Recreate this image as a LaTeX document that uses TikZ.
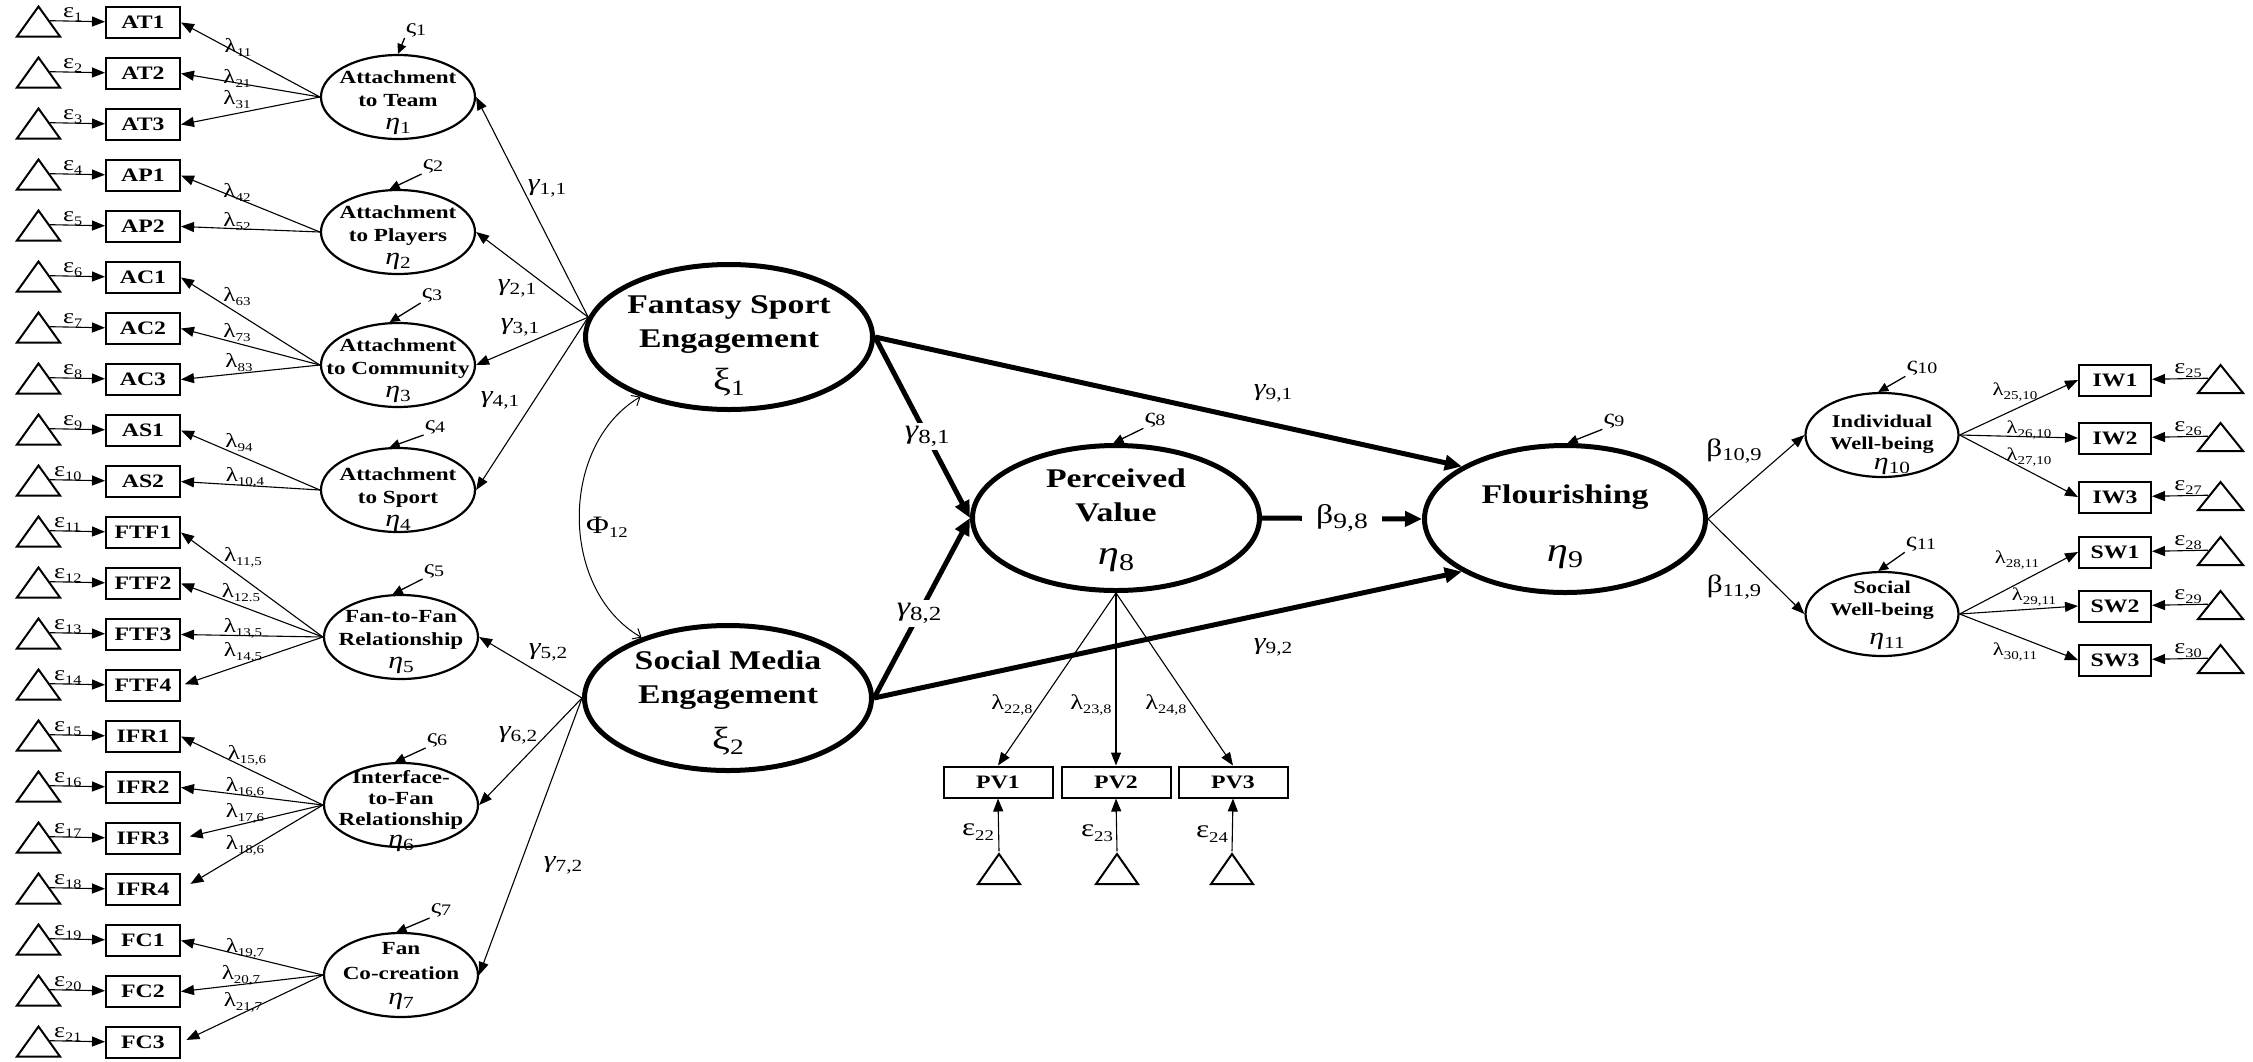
\documentclass[tikz,border=0pt]{standalone}
\usepackage{fontspec}
\setmainfont{Liberation Serif}[FakeStretch=1.25]
\usetikzlibrary{arrows.meta,shapes.geometric}

% lowered subscript of a given size
\newcommand\sbs[3][3pt]{\raisebox{-#1}{\fontsize{#2}{#2}\selectfont #3}}
\newcommand\etaS[1]{{\mdseries\fontsize{24}{24}\selectfont\itshape η\upshape\sbs[4pt]{17}{#1}}}
\newcommand\etaB[1]{{\mdseries\fontsize{34}{34}\selectfont\itshape η\upshape\sbs[6pt]{24}{#1}}}
\newcommand\xiB[1]{{\mdseries\fontsize{32}{32}\selectfont ξ\sbs[5pt]{22}{#1}}}
\newcommand\gamS[1]{{\itshape γ}\sbs[4pt]{17}{#1}}

\tikzset{
  mbox/.style={draw, line width=2pt, minimum width=74pt, minimum height=31pt, inner sep=0pt,
    font=\bfseries\fontsize{19}{19}\selectfont},
  pvbox/.style={mbox, minimum width=109pt},
  wbox/.style={mbox, minimum width=72pt},
  errtri/.style={draw, line width=2pt, isosceles triangle, isosceles triangle stretches,
    shape border rotate=90, minimum width=43pt, minimum height=30pt, inner sep=0pt},
  lat/.style={draw, ellipse, line width=2.2pt, minimum width=154pt, minimum height=84pt, inner sep=0pt},
  biglat/.style={draw, ellipse, line width=5pt, minimum width=287pt, minimum height=145pt, inner sep=0pt},
  lattxt/.style={align=center, inner sep=0pt, font=\bfseries\fontsize{18.5}{23}\selectfont},
  bigtxt/.style={align=center, inner sep=0pt, font=\bfseries\fontsize{27}{34}\selectfont},
  symb/.style={inner sep=0pt},
  ld/.style={line width=1.1pt, -{Triangle[length=13pt,width=10pt]}},
  zarr/.style={line width=1.3pt, -{Triangle[length=10pt,width=9pt]}},
  mainpath/.style={line width=5pt, -{Triangle[length=17pt,width=15pt]}},
  covpath/.style={line width=1pt, {Straight Barb[length=7pt,width=12pt]}-{Straight Barb[length=7pt,width=12pt]}},
  laml/.style={inner sep=0pt, font=\fontsize{20}{20}\selectfont},
  epsl/.style={inner sep=0pt, font=\fontsize{21}{21}\selectfont},
  zetl/.style={inner sep=1pt, font=\fontsize{21}{21}\selectfont},
  gaml/.style={inner sep=0pt, font=\fontsize{24}{24}\selectfont},
  betl/.style={inner sep=0pt, font=\fontsize{25}{25}\selectfont},
}

\begin{document}
\begin{tikzpicture}[x=1pt,y=-1pt]
\useasboundingbox (0,0) rectangle (2253,1061);

% ---------- left indicators with their error terms ----------
\foreach \nm [count=\i] in {AT1,AT2,AT3,AP1,AP2,AC1,AC2,AC3,AS1,AS2,FTF1,FTF2,FTF3,FTF4,IFR1,IFR2,IFR3,IFR4,FC1,FC2,FC3}{
  \pgfmathsetmacro\yy{22.5+51*(\i-1)}
  \pgfmathsetmacro\ex{\i<10 ? 63 : 54}
  \node[mbox] (\nm) at (143,\yy) {\nm};
  \node[errtri, anchor=lower side] (t\i) at (38.5,\yy+15) {};
  \draw[ld] (t\i.right side) -- (\nm);
  \node[epsl, anchor=south west] (e\i) at (\ex,\yy-1) {ε\sbs[4pt]{13}{\i}};
}

% ---------- first-order latent factors ----------
\node[lat] (L1) at (398,97) {};
\node[lat] (L2) at (398,232) {};
\node[lat] (L3) at (398,365) {};
\node[lat] (L4) at (398,490) {};
\node[lat] (L5) at (401,637) {};
\node[lat] (L6) at (401,805) {};
\node[lat] (L7) at (401,975) {};
\node[lattxt] (L1t) at (398,102.5) {Attachment\\to Team\\\etaS{1}};
\node[lattxt] (L2t) at (398,237.5) {Attachment\\to Players\\\etaS{2}};
\node[lattxt] (L3t) at (398,370.5) {Attachment\\to Community\\\etaS{3}};
\node[lattxt] (L4t) at (398,499.5) {Attachment\\to Sport\\\etaS{4}};
\node[lattxt] (L5t) at (401,641.5) {Fan-to-Fan\\Relationship\\\etaS{5}};
\node[lattxt, font=\bfseries\fontsize{18.5}{21}\selectfont] (L6t) at (401,811) {Interface-\\to-Fan\\Relationship\\\etaS{6}};
\node[lattxt, font=\bfseries\fontsize{18.5}{25}\selectfont] (L7t) at (401,975.5) {Fan\\Co-creation\\\etaS{7}};

% disturbances of the first-order factors
\node[zetl] (z1) at (416,30) {ς\sbs[2pt]{16}{1}};
\node[zetl] (z2) at (433,166) {ς\sbs[2pt]{16}{2}};
\node[zetl] (z3) at (432,295) {ς\sbs[2pt]{16}{3}};
\node[zetl] (z4) at (435,427) {ς\sbs[2pt]{16}{4}};
\node[zetl] (z5) at (434,571) {ς\sbs[2pt]{16}{5}};
\node[zetl] (z6) at (437,740) {ς\sbs[2pt]{16}{6}};
\node[zetl] (z7) at (441,910) {ς\sbs[2pt]{16}{7}};
\draw[zarr] (z1.south west) -- (L1.north);
\draw[zarr] (z2.south west) -- (L2.101);
\draw[zarr] (z3.south west) -- (L3.101);
\draw[zarr] (z4.south west) -- (L4.101);
\draw[zarr] (z5.south west) -- (L5.101);
\draw[zarr] (z6.south west) -- (L6.98);
\draw[zarr] (z7.south west) -- (L7.96);

% loadings of the first-order factors
\foreach \a/\b in {L1/AT1,L1/AT2,L1/AT3,L2/AP1,L2/AP2,L3/AC1,L3/AC2,L3/AC3,L4/AS1,L4/AS2,
                   L5/FTF1,L5/FTF2,L5/FTF3,L6/IFR1,L6/IFR2,L7/FC1,L7/FC2}
  \draw[ld] (\a.west) -- (\b.east);
\draw[ld, shorten >=4pt] (L5.west) -- (FTF4.east);
\draw[ld, shorten >=9pt] (L6.west) -- (IFR3.east);
\draw[ld, shorten >=11pt] (L6.west) -- (IFR4.east);
\draw[ld, shorten >=6pt] (L7.west) -- (FC3.east);

\node[laml] (l11) at (238,47) {λ\sbs[4pt]{12}{11}};
\node[laml] (l21) at (237,78) {λ\sbs[4pt]{12}{21}};
\node[laml] (l31) at (237,100) {λ\sbs[4pt]{12}{31}};
\node[laml] (l42) at (237,192) {λ\sbs[4pt]{12}{42}};
\node[laml] (l52) at (237,222) {λ\sbs[4pt]{12}{52}};
\node[laml] (l63) at (237,297) {λ\sbs[4pt]{12}{63}};
\node[laml] (l73) at (237,333) {λ\sbs[4pt]{12}{73}};
\node[laml] (l83) at (239,363) {λ\sbs[4pt]{12}{83}};
\node[laml] (l94) at (239,443) {λ\sbs[4pt]{12}{94}};
\node[laml] (l104) at (245,477) {λ\sbs[4pt]{12}{10,4}};
\node[laml] (l115) at (243,557) {λ\sbs[4pt]{12}{11,5}};
\node[laml] (l125) at (241,593) {λ\sbs[4pt]{12}{12.5}};
\node[laml] (l135) at (243,628) {λ\sbs[4pt]{12}{13,5}};
\node[laml] (l145) at (243,652) {λ\sbs[4pt]{12}{14,5}};
\node[laml] (l156) at (247,755) {λ\sbs[4pt]{12}{15,6}};
\node[laml] (l166) at (245,787) {λ\sbs[4pt]{12}{16,6}};
\node[laml] (l176) at (245,813) {λ\sbs[4pt]{12}{17,6}};
\node[laml] (l186) at (245,845) {λ\sbs[4pt]{12}{18,6}};
\node[laml] (l197) at (245,948) {λ\sbs[4pt]{12}{19,7}};
\node[laml] (l207) at (241,975) {λ\sbs[4pt]{12}{20,7}};
\node[laml] (l217) at (243,1002) {λ\sbs[4pt]{12}{21,7}};

% ---------- exogenous constructs ----------
\node[biglat] (FSE) at (729,337) {};
\node[biglat] (SME) at (728,698) {};
\node[bigtxt] (FSEt) at (729,325) {Fantasy Sport\\Engagement};
\node[symb] (FSEs) at (729,382) {\xiB{1}};
\node[bigtxt] (SMEt) at (728,680) {Social Media\\Engagement};
\node[symb] (SMEs) at (728,741) {\xiB{2}};

\draw[ld] (FSE.172) -- (L1.east);
\draw[ld] (FSE.172) -- (L2.east);
\draw[ld] (FSE.172) -- (L3.east);
\draw[ld] (FSE.172) -- (L4.east);
\draw[ld] (SME.west) -- (L5.east);
\draw[ld] (SME.west) -- (L6.east);
\draw[ld] (SME.west) -- (L7.east);
\node[gaml] (g11) at (547,188) {\gamS{1,1}};
\node[gaml] (g21) at (517,288) {\gamS{2,1}};
\node[gaml] (g31) at (520,327) {\gamS{3,1}};
\node[gaml] (g41) at (500,400) {\gamS{4,1}};
\node[gaml] (g52) at (548,652) {\gamS{5,2}};
\node[gaml] (g62) at (518,735) {\gamS{6,2}};
\node[gaml] (g72) at (563,865) {\gamS{7,2}};

% correlation of the exogenous constructs
\draw[covpath] (FSE.214) .. controls (559,445) and (559,590) .. (SME.145);
\node[betl] (phi) at (607,527) {Φ\sbs[4pt]{15}{12}};

% ---------- perceived value ----------
\node[biglat] (PV) at (1116,518) {};
\node[bigtxt] (PVt) at (1116,495) {Perceived\\Value};
\node[symb] (PVs) at (1116,560) {\etaB{8}};
\node[zetl, font=\fontsize{22}{22}\selectfont] (z8) at (1155,420) {ς\sbs[2pt]{16}{8}};
\draw[zarr] (z8.south west) -- (PV.92);

\node[pvbox] (PV1) at (998,782) {PV1};
\node[pvbox] (PV2) at (1116,782) {PV2};
\node[pvbox] (PV3) at (1233,782) {PV3};
\draw[ld] (PV.south) -- (PV1.north);
\draw[ld] (PV.south) -- (PV2.north);
\draw[ld] (PV.south) -- (PV3.north);
\node[laml, font=\fontsize{21}{21}\selectfont] (l228) at (1012,705) {λ\sbs[4pt]{13}{22,8}};
\node[laml, font=\fontsize{21}{21}\selectfont] (l238) at (1091,705) {λ\sbs[4pt]{13}{23,8}};
\node[laml, font=\fontsize{21}{21}\selectfont] (l248) at (1166,705) {λ\sbs[4pt]{13}{24,8}};

\node[errtri, minimum width=42pt, anchor=lower side] (tp1) at (999,885) {};
\node[errtri, minimum width=42pt, anchor=lower side] (tp2) at (1117,885) {};
\node[errtri, minimum width=42pt, anchor=lower side] (tp3) at (1232,885) {};
\draw[ld] (tp1.apex) -- (PV1.south);
\draw[ld] (tp2.apex) -- (PV2.south);
\draw[ld] (tp3.apex) -- (PV3.south);
\node[epsl, font=\fontsize{25}{25}\selectfont] (e22) at (978,832) {ε\sbs[5pt]{15}{22}};
\node[epsl, font=\fontsize{25}{25}\selectfont] (e23) at (1097,833) {ε\sbs[5pt]{15}{23}};
\node[epsl, font=\fontsize{25}{25}\selectfont] (e24) at (1212,834) {ε\sbs[5pt]{15}{24}};

% ---------- flourishing ----------
\node[biglat, minimum width=281pt, minimum height=147pt] (FL) at (1565,519) {};
\node[bigtxt] (FLt) at (1565,497) {Flourishing};
\node[symb] (FLs) at (1565,557) {\etaB{9}};
\node[zetl, font=\fontsize{22}{22}\selectfont] (z9) at (1614,421) {ς\sbs[2pt]{16}{9}};
\draw[zarr] (z9.south west) -- (FL.88);

% structural paths
\draw[mainpath] (FSE.east) -- (FL.153);
\draw[mainpath] (SME.east) -- (FL.207);
\draw[mainpath] (FSE.east) -- node[pos=0.55, fill=white, inner sep=3pt, font=\fontsize{27}{27}\selectfont] (g81) {{\itshape γ}\sbs[5pt]{20}{8,1}} (PV.west);
\draw[mainpath] (SME.east) -- node[pos=0.47, fill=white, inner sep=3pt, font=\fontsize{27}{27}\selectfont] (g82) {{\itshape γ}\sbs[5pt]{20}{8,2}} (PV.west);
\draw[mainpath] (PV.east) -- node[midway, fill=white, inner xsep=14pt, inner ysep=2pt, font=\fontsize{27}{27}\selectfont] (b98) {β\sbs[5pt]{22}{9,8}} (FL.west);
\node[gaml] (g91) at (1273,393) {\gamS{9,1}};
\node[gaml] (g92) at (1273,647) {\gamS{9,2}};

% ---------- well-being dimensions ----------
\node[lat, minimum width=153pt] (IWB) at (1882,435) {};
\node[lat, minimum width=153pt] (SWB) at (1882,614) {};
\node[lattxt, font=\bfseries\fontsize{18}{22}\selectfont] (IWBt) at (1882,434) {Individual\\Well-being};
\node[symb] (IWBs) at (1892,466) {\etaS{10}};
\node[lattxt, font=\bfseries\fontsize{18}{22}\selectfont] (SWBt) at (1882,600) {Social\\Well-being};
\node[symb] (SWBs) at (1887,641) {\etaS{11}};
\node[zetl, font=\fontsize{22}{22}\selectfont] (z10) at (1922,368) {ς\sbs[2pt]{16}{10}};
\node[zetl, font=\fontsize{22}{22}\selectfont] (z11) at (1921,544) {ς\sbs[2pt]{16}{11}};
\draw[zarr] (z10.south west) -- (IWB.95);
\draw[zarr] (z11.south west) -- (SWB.95);

\draw[ld] (FL.east) -- (IWB.west);
\draw[ld] (FL.east) -- (SWB.west);
\node[betl] (b109) at (1734,451) {β\sbs[4pt]{18}{10,9}};
\node[betl] (b119) at (1734,587) {β\sbs[4pt]{18}{11,9}};

\foreach \nm/\yy/\k in {IW1/380/25,IW2/438/26,IW3/497/27,SW1/552/28,SW2/606/29,SW3/660/30}{
  \node[wbox] (\nm) at (2115,\yy) {\nm};
  \node[errtri, minimum width=45pt, minimum height=28pt, anchor=lower side] (tr\k) at (2220.5,\yy+14) {};
  \draw[ld] (tr\k.left side) -- (\nm);
  \node[epsl] (e\k) at (2188,\yy-9) {ε\sbs[4pt]{13}{\k}};
}
\draw[ld] (IWB.east) -- (IW1.west);
\draw[ld] (IWB.east) -- (IW2.west);
\draw[ld] (IWB.east) -- (IW3.west);
\draw[ld] (SWB.east) -- (SW1.west);
\draw[ld] (SWB.east) -- (SW2.west);
\draw[ld] (SWB.east) -- (SW3.west);
\node[laml, font=\fontsize{18}{18}\selectfont] (l2510) at (2015,392) {λ\sbs[4pt]{12}{25,10}};
\node[laml, font=\fontsize{18}{18}\selectfont] (l2610) at (2029,430) {λ\sbs[4pt]{12}{26,10}};
\node[laml, font=\fontsize{18}{18}\selectfont] (l2710) at (2029,457) {λ\sbs[4pt]{12}{27,10}};
\node[laml, font=\fontsize{18}{18}\selectfont] (l2811) at (2017,560) {λ\sbs[4pt]{12}{28,11}};
\node[laml, font=\fontsize{18}{18}\selectfont] (l2911) at (2034,597) {λ\sbs[4pt]{12}{29,11}};
\node[laml, font=\fontsize{18}{18}\selectfont] (l3011) at (2015,652) {λ\sbs[4pt]{12}{30,11}};
\end{tikzpicture}
\end{document}
